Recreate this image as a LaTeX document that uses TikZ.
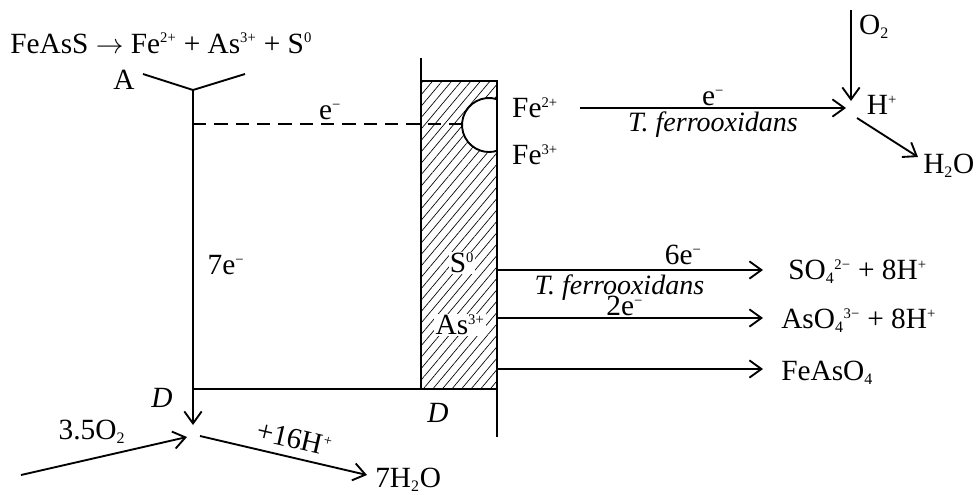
\documentclass[tikz,border=0pt]{standalone}
\usepackage{fontspec}
\setmainfont{Liberation Serif}[ItalicFont={Liberation Serif Italic}]
\usetikzlibrary{arrows.meta, patterns.meta}
\newcommand{\chg}[1]{\textsuperscript{\fontsize{11}{11}\selectfont #1}}
\newcommand{\sbs}[1]{\textsubscript{\fontsize{12}{12}\selectfont #1}}

\begin{document}
\begin{tikzpicture}[
  x=0.75pt, y=-0.75pt,
  font=\fontsize{22}{26}\selectfont,
  line width=1.4pt,
  arr/.style={-{Straight Barb[length=9pt, width=13pt, line width=1.4pt]}},
  species/.style={inner sep=1pt},
  onplate/.style={fill=white, inner sep=1pt},
  bug/.style={font=\fontsize{21}{24}\selectfont\itshape, inner sep=2pt},
  hatch/.style={pattern={Lines[angle=50, distance=5.5pt, line width=0.5pt]}}
]
\useasboundingbox (0,0) rectangle (980,494);

% overall dissolution
\node[anchor=base west, species] (rxn) at (8,53) {FeAsS $\rightarrow$ Fe\chg{2+} + As\chg{3+} + S\chg{0}};
\node[species] (a) at (124,80) {A};
\coordinate (yl) at (143,74);
\coordinate (yr) at (245,74);
\coordinate (yj) at (193,90);
\coordinate (dj) at (193,124);
\coordinate (dd) at (193,389);
\coordinate (dtip) at (193,425);

% mineral plate
\coordinate (ptl) at (421,81);
\coordinate (pbr) at (497,389);
\coordinate (ptop) at (421,58);
\coordinate (ptr) at (497,81);
\coordinate (pbot) at (497,437);
\coordinate (hole) at (462,124);
\draw[hatch] (ptl) rectangle (pbr);
\draw[fill=white] (497,99.2) arc[start angle=-72.8, end angle=-287.2, radius=27];
\draw (ptop) -- (ptl);
\draw (ptr) -- (pbot);

\draw (yl) -- (yj) -- (yr);
\draw[arr] (yj) -- (dtip);
\draw (dd) -- (pbr);
\draw[dash pattern=on 10pt off 6pt] (dj) -- (hole);
\node[species] (edash) at (330,112) {e\chg{−}};
\node[species] (seven) at (226,265) {7e\chg{−}};
\node[species, font=\fontsize{22}{26}\selectfont\itshape] (d1) at (162,398) {D};
\node[species, font=\fontsize{22}{26}\selectfont\itshape] (d2) at (438,413) {D};

% iron couple
\node[species] (fe2) at (535,108) {Fe\chg{2+}};
\node[species] (fe3) at (535,155) {Fe\chg{3+}};
\coordinate (fest) at (580,108);
\coordinate (fetip) at (846,108);
\draw[arr] (fest) -- node[above, species] {e\chg{−}} node[below, bug] {T. ferrooxidans} (fetip);

\node[species] (o2) at (874,27) {O\sbs{2}};
\coordinate (o2top) at (851,10);
\coordinate (o2tip) at (851,101);
\draw[arr] (o2top) -- (o2tip);
\node[species] (hp) at (882,105) {H\chg{+}};
\coordinate (hst) at (857,118);
\coordinate (htip) at (918,157);
\draw[arr] (hst) -- (htip);
\node[anchor=west, species] (h2o) at (921,166) {H\sbs{2}O};

% sulfur and arsenic
\node[onplate] (s0) at (462,263) {S\chg{0}};
\coordinate (sst) at (497,270);
\coordinate (stip) at (763,270);
\draw[arr] (sst) -- node[above=2pt, pos=0.7, species] {6e\chg{−}} node[below=1pt, pos=0.46, bug] {T. ferrooxidans} (stip);
\node[anchor=west, species] (so4) at (786,272) {SO\sbs{4}\chg{2−} + 8H\chg{+}};

\node[onplate] (as3) at (460,325) {As\chg{3+}};
\coordinate (ast) at (497,318);
\coordinate (atip) at (763,318);
\draw[arr] (ast) -- node[above, pos=0.48, species] {2e\chg{−}} (atip);
\node[anchor=west, species] (aso4) at (779,321) {AsO\sbs{4}\chg{3−} + 8H\chg{+}};

\coordinate (fst) at (497,369);
\coordinate (ftip) at (763,369);
\draw[arr] (fst) -- (ftip);
\node[anchor=west, species] (feaso4) at (779,373) {FeAsO\sbs{4}};

% cathodic reaction
\coordinate (oin) at (21,475);
\coordinate (otip) at (187,437);
\draw[arr] (oin) -- (otip);
\node[species] (o35) at (92,432) {3.5O\sbs{2}};
\coordinate (wst) at (200,436);
\coordinate (wtip) at (367,475);
\draw[arr] (wst) -- node[above=5pt, pos=0.54, sloped, species] {+16H\chg{+}} (wtip);
\node[anchor=north west, species] (h2o7) at (373,466) {7H\sbs{2}O};
\end{tikzpicture}
\end{document}
